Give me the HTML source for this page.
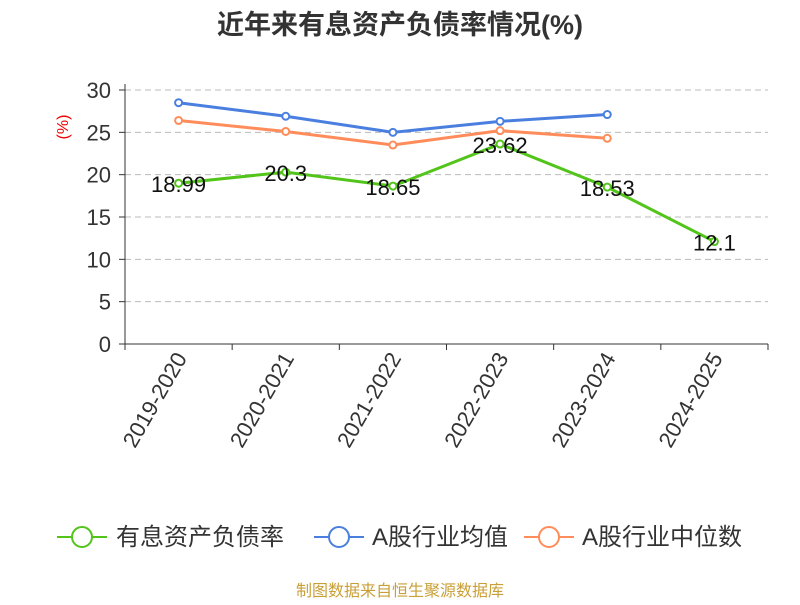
<!DOCTYPE html>
<html><head><meta charset="utf-8"><style>
body{margin:0;background:#fff;}
svg text{font-family:"Liberation Sans","Noto Sans CJK SC",sans-serif;}
</style></head><body>
<svg id="chart" width="800" height="600">
<text x="400" y="34" text-anchor="middle" font-size="27" font-weight="bold" fill="#333">近年来有息资产负债率情况(%)</text>
<text transform="translate(68,127) rotate(-90)" text-anchor="middle" font-size="16" fill="#e00">(%)</text>
<g id="grid"></g><g id="axes"></g><g id="series"></g>
<g>
 <g><line x1="57" y1="537" x2="107" y2="537" stroke="#52c41a" stroke-width="2"/><circle cx="82" cy="537" r="10" fill="#fff" stroke="#52c41a" stroke-width="2"/><text x="116" y="545" font-size="24" fill="#333">有息资产负债率</text></g>
 <g><line x1="314" y1="537" x2="364" y2="537" stroke="#4a7fe0" stroke-width="2"/><circle cx="339" cy="537" r="10" fill="#fff" stroke="#4a7fe0" stroke-width="2"/><text x="372" y="545" font-size="24" fill="#333">A股行业均值</text></g>
 <g><line x1="524" y1="537" x2="574" y2="537" stroke="#ff8c5a" stroke-width="2"/><circle cx="549" cy="537" r="10" fill="#fff" stroke="#ff8c5a" stroke-width="2"/><text x="582" y="545" font-size="24" fill="#333">A股行业中位数</text></g>
</g>
<text x="400" y="596" text-anchor="middle" font-size="16" fill="#c9a038">制图数据来自恒生聚源数据库</text>
</svg>
<script>
const categories=["2019-2020","2020-2021","2021-2022","2022-2023","2023-2024","2024-2025"];
const debtRatio=[18.99,20.3,18.65,23.62,18.53,12.1];
const industryMean=[28.5,26.9,25.0,26.3,27.1];
const industryMedian=[26.4,25.1,23.5,25.2,24.3];
const yTicks=[0,5,10,15,20,25,30];
const NS="http://www.w3.org/2000/svg";
const x0=125,x1=768,yTop=90,yBot=344,yMax=30;
const bw=(x1-x0)/categories.length;
const xS=i=>x0+bw*(i+0.5);
const yS=v=>yBot-(v/yMax)*(yBot-yTop);
function mk(tag,attrs,parent,text){const e=document.createElementNS(NS,tag);for(const k in attrs)e.setAttribute(k,attrs[k]);if(text!==undefined)e.textContent=text;parent.appendChild(e);return e;}
const grid=document.getElementById('grid'),axes=document.getElementById('axes'),ser=document.getElementById('series');
yTicks.forEach(t=>{
 const y=yS(t);
 if(t>0){const g=mk('line',{x1:x0,x2:x1,y1:y,y2:y,stroke:'#bbb','stroke-dasharray':'6,4'},grid);
 
 }
 const tk=mk('line',{x1:x0-6,x2:x0,y1:y,y2:y,stroke:'#333'},axes);
 
 
 const l=mk('text',{x:x0-14,y:y+8,'text-anchor':'end','font-size':22,fill:'#333'},axes,t);
 
 
});
const ya=mk('line',{x1:x0,x2:x0,y1:yTop-6,y2:yBot,stroke:'#333'},axes);


const xa=mk('line',{x1:x0,x2:x1,y1:yBot,y2:yBot,stroke:'#333'},axes);


for(let i=0;i<=categories.length;i++){const t=mk('line',{x1:x0+bw*i,x2:x0+bw*i,y1:yBot,y2:yBot+6,stroke:'#333'},axes);
 
 }
categories.forEach((c,i)=>{
 const l=mk('text',{transform:`translate(${xS(i)+9},${yBot+14}) rotate(-60)`,'text-anchor':'end','font-size':22,fill:'#333'},axes,c);
 
 
});
function series(vals,color,name,labels){
 const g=mk('g',{},ser);
 
 
 const p=mk('polyline',{points:vals.map((v,i)=>xS(i)+','+yS(v)).join(' '),fill:'none',stroke:color,'stroke-width':3},g);
 
 
 vals.forEach((v,i)=>{
  const c=mk('circle',{cx:xS(i),cy:yS(v),r:3.5,fill:'#fff',stroke:color,'stroke-width':2},g);
  
  
  if(labels){const t=mk('text',{x:xS(i),y:yS(v)+9,'text-anchor':'middle','font-size':22,fill:'#111'},g,v);
   
   }
 });
}
series(industryMean,'#4a7fe0','industry-mean-series',false);
series(industryMedian,'#ff8c5a','industry-median-series',false);
series(debtRatio,'#52c41a','debt-ratio-series',true);
</script>
</body></html>
